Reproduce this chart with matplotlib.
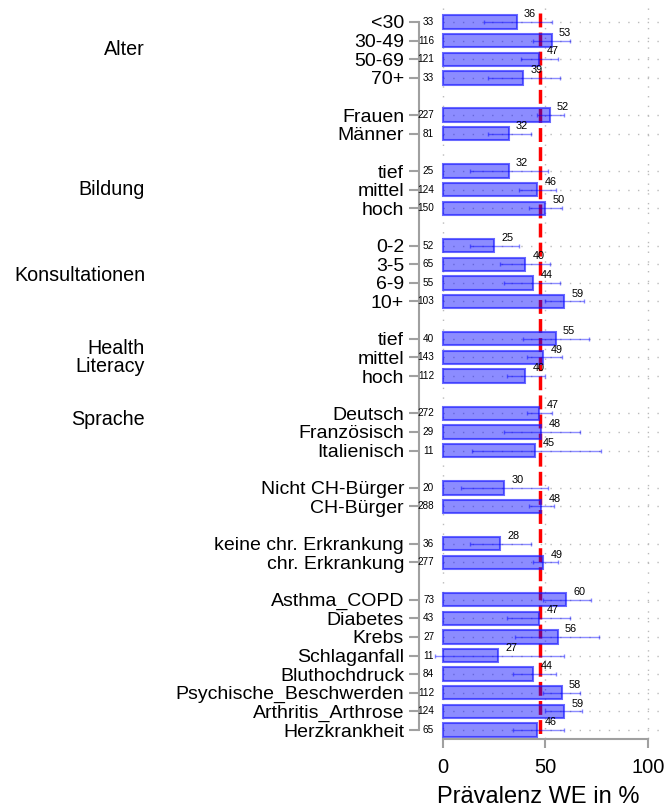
import numpy as np
import matplotlib.pyplot as plt
from matplotlib.transforms import blended_transform_factory

plt.rcParams['font.family'] = ['Liberation Sans', 'DejaVu Sans']

# Daten
items = ['<30', '30-49', '50-69', '70+',
         'Frauen', 'Männer',
         'tief', 'mittel', 'hoch',
         '0-2', '3-5', '6-9', '10+',
         'tief', 'mittel', 'hoch',
         'Deutsch', 'Französisch', 'Italienisch',
         'Nicht CH-Bürger', 'CH-Bürger',
         'keine chr. Erkrankung', 'chr. Erkrankung',
         'Asthma_COPD', 'Diabetes', 'Krebs', 'Schlaganfall', 'Bluthochdruck',
         'Psychische_Beschwerden', 'Arthritis_Arthrose', 'Herzkrankheit']
group_sizes = [4, 2, 3, 4, 3, 3, 2, 2, 8]
group_labels = ['Alter', '', 'Bildung', 'Konsultationen', 'Health\nLiteracy',
                'Sprache', '', '', '']
n_obs = [33, 116, 121, 33, 227, 81, 25, 124, 150, 52, 65, 55, 103, 40, 143, 112,
         272, 29, 11, 20, 288, 36, 277, 73, 43, 27, 11, 84, 112, 124, 65]
prev = [36, 53, 47, 39, 52, 32, 32, 46, 50, 25, 40, 44, 59, 55, 49, 40,
        47, 48, 45, 30, 48, 28, 49, 60, 47, 56, 27, 44, 58, 59, 46]
ci_low = [20, 44, 38, 22, 46, 22, 13, 37, 42, 13, 28, 30, 50, 39, 41, 31,
          41, 30, 14, 9, 42, 13, 44, 49, 31, 35, -4, 34, 49, 50, 34]
ci_high = [53, 62, 56, 57, 59, 43, 51, 55, 58, 37, 52, 57, 69, 71, 58, 50,
           53, 67, 77, 51, 54, 43, 56, 72, 62, 76, 59, 55, 67, 68, 59]
mean_all = 47.3

# Positionen mit Leerzeile zwischen Gruppen
pos = []
group_pos = []
s = 0
for size in group_sizes:
    grp = []
    for i in range(size):
        pos.append(s)
        grp.append(s)
        s += 1
    group_pos.append(np.mean(grp))
    s += 1
pos = np.array(pos)
prev = np.array(prev)
lo = prev - np.array(ci_low)
hi = np.array(ci_high) - prev

fig = plt.figure(figsize=(6.67, 8.11), dpi=100)
ax = fig.add_axes([419 / 667, 72 / 811, 248 / 667, 731 / 811])
ax.set_xlim(-11.7, 109.3)
ax.set_ylim(38.48, -0.75)

# Gitter
for p in pos:
    ax.plot([0, 109.3], [p, p], color='#BBBBBB', lw=1, ls=(0, (1, 6)), zorder=0)
for xv in [0, 50, 100]:
    ax.plot([xv, xv], [-0.75, 38.48], color='#BBBBBB', lw=1, ls=(0, (1, 6)), zorder=0)

# Referenzlinie
ax.plot([mean_all, mean_all], [-0.48, 38.27], color='red', lw=2.5,
        ls=(0, (4, 1.5)), zorder=1)

# Balken
ax.barh(pos, prev, height=0.72, color=(0, 0, 1, 0.45),
        edgecolor=(0.1, 0.1, 1, 0.65), linewidth=1.5, zorder=2)
ax.errorbar(prev, pos, xerr=[lo, hi], fmt='none', ecolor=(0, 0, 1, 0.45),
            elinewidth=1, capsize=1.5, capthick=1, zorder=3)

for p, v, n in zip(pos, prev, n_obs):
    ax.text(v + 6.5, p - 0.42, str(v), fontsize=7.8, ha='center', va='center')
    ax.text(-4.3, p, str(n), fontsize=7.2, ha='right', va='center')

# Gruppenbeschriftung
trans = blended_transform_factory(fig.transFigure, ax.transData)
offsets = {'Sprache': -0.65, 'Konsultationen': 0.1}
for lab, gp in zip(group_labels, group_pos):
    if lab:
        ax.text(145 / 667, gp + offsets.get(lab, 0), lab, transform=trans,
                fontsize=14.2, ha='right', va='center', linespacing=0.95)

# Achsen
for side in ['top', 'right']:
    ax.spines[side].set_visible(False)
ax.spines['left'].set_bounds(0, 38)
ax.spines['bottom'].set_bounds(0, 100)
for side in ['left', 'bottom']:
    ax.spines[side].set_color('#A0A0A0')
    ax.spines[side].set_linewidth(1.5)

ax.set_yticks(pos)
ax.set_yticklabels(items, fontsize=14.0)
ax.tick_params(axis='y', length=7.2, width=1.5, color='#A0A0A0', pad=3.6)
ax.set_xticks([0, 50, 100])
ax.set_xticklabels(['0', '50', '100'], fontsize=14.5)
ax.tick_params(axis='x', length=6.5, width=1.5, color='#A0A0A0', pad=7)

ax.set_xlabel('Prävalenz WE in %', fontsize=17)
ax.xaxis.set_label_coords((46.3 + 11.7) / 121, -0.0793)
ax.xaxis.label.set_va('center')

fig.savefig('out.png', dpi=100)
